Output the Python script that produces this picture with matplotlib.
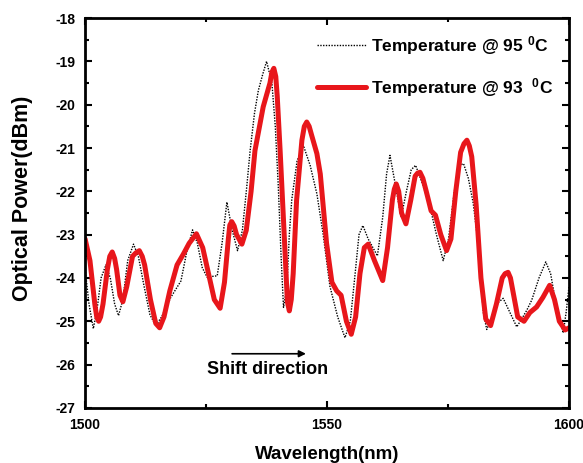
import numpy as np
import matplotlib
matplotlib.use('Agg')
from matplotlib import pyplot as plt
from matplotlib.ticker import MultipleLocator

plt.rcParams['font.family'] = ['Liberation Sans', 'DejaVu Sans']
plt.rcParams['font.weight'] = 'bold'
plt.rcParams['mathtext.default'] = 'regular'
plt.rcParams['axes.unicode_minus'] = False

# Temperature @ 95 C (black dotted)
wl_95 = [1500.0, 1500.8, 1501.7, 1502.5, 1503.3, 1504.3, 1505.2, 1506.1, 1506.9, 1507.8,
         1508.8, 1510.0, 1511.0, 1512.2, 1513.4, 1514.6, 1515.8, 1517.7, 1519.8, 1521.0,
         1522.2, 1523.2, 1524.2, 1525.2, 1527.3, 1528.3, 1529.3, 1530.4, 1531.5, 1532.5,
         1533.4, 1534.1, 1535.0, 1535.8, 1536.7, 1537.5, 1538.6, 1539.3, 1539.9, 1540.5,
         1541.0, 1541.7, 1542.2, 1542.7, 1543.8, 1545.1, 1546.5, 1547.9, 1549.2, 1550.6,
         1552.2, 1553.7, 1554.8, 1555.8, 1556.6, 1557.4, 1558.5, 1560.4, 1561.5, 1562.3,
         1563.0, 1564.2, 1565.3, 1566.4, 1567.4, 1568.3, 1569.8, 1571.3, 1572.6, 1574.0,
         1575.1, 1576.3, 1577.4, 1578.2, 1579.2, 1580.2, 1581.0, 1581.6, 1582.3, 1583.0,
         1584.0, 1585.0, 1586.4, 1587.8, 1589.2, 1590.2, 1591.25, 1592.3, 1593.8, 1595.2,
         1596.2, 1597.3, 1598.8, 1599.4, 1600.0]
p_95 = [-23.8, -24.6, -25.17, -24.7, -24.0, -23.7, -24.0, -24.6, -24.87, -24.5,
        -23.6, -23.22, -23.5, -24.2, -24.85, -25.1, -24.9, -24.45, -24.07, -23.4,
        -22.89, -23.2, -23.76, -23.98, -23.95, -23.2, -22.25, -22.9, -23.37, -22.9,
        -21.9, -21.06, -20.2, -19.67, -19.3, -19.0, -19.5, -20.5, -21.83, -23.5,
        -24.68, -24.2, -23.0, -22.2, -21.3, -20.94, -21.4, -22.06, -23.0, -24.2,
        -24.9, -25.38, -25.0, -23.9, -23.0, -22.79, -23.1, -23.49, -22.6, -21.6,
        -21.17, -21.9, -22.6, -22.0, -21.5, -21.4, -21.85, -22.37, -23.0, -23.6,
        -23.1, -22.0, -21.4, -21.36, -21.7, -22.27, -23.0, -23.8, -24.8, -25.19,
        -24.9, -24.6, -24.47, -24.8, -25.13, -24.95, -24.75, -24.51, -24.0, -23.63,
        -23.9, -24.6, -25.27, -24.8, -24.2]

# Temperature @ 93 C (red solid)
wl_93 = [1500.0, 1501.0, 1502.0, 1502.4, 1502.8, 1503.2, 1503.7, 1504.6, 1505.1, 1505.6,
         1506.1, 1506.5, 1507.2, 1507.8, 1508.6, 1509.8, 1510.5, 1511.2, 1511.8, 1512.3,
         1513.5, 1514.6, 1515.4, 1516.3, 1517.5, 1519.0, 1520.3, 1521.5, 1523.0, 1524.3,
         1525.5, 1526.7, 1527.9, 1528.8, 1529.6, 1529.9, 1530.3, 1530.8, 1531.3, 1532.4,
         1533.3, 1534.3, 1535.1, 1536.8, 1538.2, 1538.6, 1539.0, 1539.4, 1539.7, 1540.3,
         1541.3, 1541.8, 1542.2, 1542.6, 1543.0, 1543.7, 1544.8, 1545.3, 1545.8, 1546.3,
         1546.8, 1547.9, 1548.6, 1549.9, 1551.0, 1552.0, 1552.9, 1554.0, 1555.0, 1555.9,
         1556.8, 1557.7, 1558.5, 1559.8, 1561.5, 1562.5, 1563.5, 1563.9, 1564.3, 1564.8,
         1565.4, 1566.3, 1567.3, 1568.2, 1568.7, 1569.2, 1569.8, 1570.5, 1571.5, 1572.4,
         1573.5, 1574.7, 1575.6, 1576.6, 1577.6, 1578.3, 1578.9, 1579.4, 1579.9, 1580.8,
         1581.8, 1582.8, 1583.8, 1585.0, 1586.2, 1586.8, 1587.4, 1587.9, 1588.4, 1589.4,
         1590.7, 1591.9, 1593.3, 1594.6, 1596.0, 1597.0, 1598.0, 1599.2, 1600.0]
p_93 = [-23.1, -23.6, -24.6, -24.9, -25.0, -24.9, -24.6, -23.8, -23.5, -23.4,
        -23.55, -23.8, -24.4, -24.55, -24.2, -23.5, -23.42, -23.37, -23.5, -23.7,
        -24.5, -25.05, -25.15, -24.9, -24.3, -23.7, -23.45, -23.2, -22.98, -23.3,
        -23.9, -24.5, -24.7, -24.1, -23.1, -22.78, -22.7, -22.8, -23.0, -23.22,
        -22.9, -22.0, -21.06, -20.05, -19.5, -19.25, -19.16, -19.35, -19.8, -21.06,
        -23.37, -24.55, -24.76, -24.5, -23.9, -22.21, -20.82, -20.5, -20.4, -20.5,
        -20.7, -21.13, -21.6, -23.2, -24.1, -24.3, -24.4, -25.0, -25.3, -24.9,
        -23.9, -23.3, -23.22, -23.6, -24.06, -23.3, -22.2, -21.95, -21.83, -22.0,
        -22.5, -22.75, -22.2, -21.65, -21.58, -21.56, -21.7, -22.0, -22.45, -22.55,
        -23.0, -23.37, -23.1, -22.0, -21.1, -20.9, -20.82, -20.95, -21.2, -22.3,
        -24.0, -24.95, -25.1, -24.6, -24.0, -23.9, -23.87, -24.0, -24.3, -24.9,
        -25.0, -24.8, -24.67, -24.45, -24.17, -24.5, -25.0, -25.2, -25.15]

LABEL_95 = 'Temperature @ 95 $^{0}$C'
LABEL_93 = 'Temperature @ 93  $^{0}$C'

fig = plt.figure(figsize=(5.83, 4.63), dpi=100)
ax = fig.add_axes([0.146, 0.119, 0.83, 0.842])

ax.plot(wl_95, p_95, color='black', linestyle=(0, (1, 1)), linewidth=1.0, label=LABEL_95)
ax.plot(wl_93, p_93, color='#e8161b', linewidth=3.6, solid_joinstyle='round',
        solid_capstyle='round', label=LABEL_93)

ax.set_xlim(1500, 1600)
ax.set_ylim(-27, -18)
ax.xaxis.set_major_locator(MultipleLocator(50))
ax.xaxis.set_minor_locator(MultipleLocator(25))
ax.yaxis.set_major_locator(MultipleLocator(1))
ax.yaxis.set_minor_locator(MultipleLocator(0.5))
ax.tick_params(which='both', direction='in', top=True, right=True, width=1.5)
ax.tick_params(which='major', length=5, labelsize=10)
ax.tick_params(which='minor', length=3)
ax.tick_params(axis='x', which='major', pad=7)
ax.tick_params(axis='y', which='major', pad=7)
for lbl in ax.get_xticklabels() + ax.get_yticklabels():
    lbl.set_fontweight('bold')
for sp in ax.spines.values():
    sp.set_linewidth(2)

ax.set_xlabel('Wavelength(nm)', fontsize=13.5, fontweight='bold', labelpad=10)
ax.set_ylabel('Optical Power(dBm)', fontsize=15.5, fontweight='bold')
ax.yaxis.set_label_coords(-0.107, 0.538)

ax.annotate('', xy=(1546.2, -25.75), xytext=(1529.8, -25.75),
            arrowprops=dict(arrowstyle='-|>', color='black', lw=1.2, mutation_scale=10))
ax.text(1537.8, -26.11, 'Shift direction', ha='center', va='center', fontsize=13,
        fontweight='bold')

ax.legend(loc='upper right', frameon=False, handlelength=2.8,
          handletextpad=0.3, labelspacing=1.1, borderaxespad=0.5,
          prop={'weight': 'bold', 'size': 12.5})

fig.savefig('out.png', dpi=100)
